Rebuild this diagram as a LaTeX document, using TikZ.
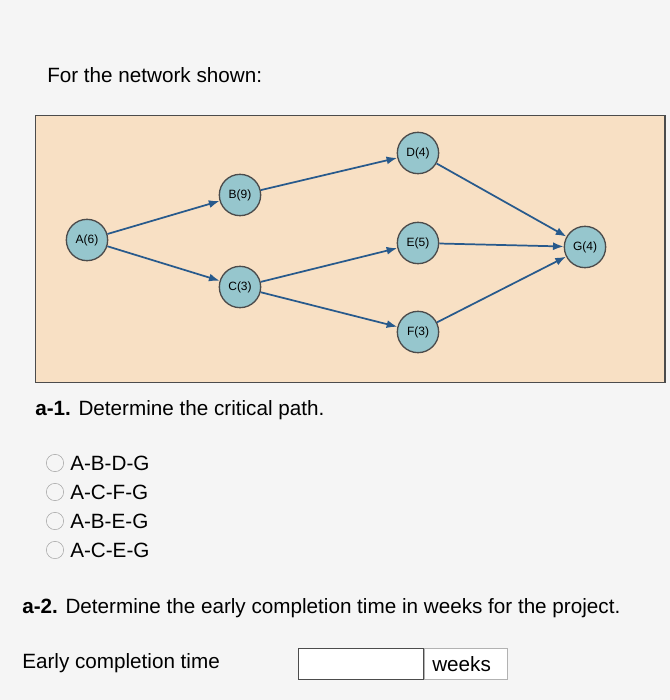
\documentclass[tikz,border=0pt]{standalone}
\usepackage{fontspec}
\setmainfont{Liberation Sans}
\usetikzlibrary{arrows.meta}
\definecolor{nodefill}{RGB}{150,198,205}
\definecolor{arrcol}{RGB}{40,90,140}
\definecolor{bgfill}{RGB}{248,224,196}
\begin{document}
\begin{tikzpicture}[x=0.75pt,y=-0.75pt,
  ev/.style={circle,draw=black!70,line width=1pt,fill=nodefill,minimum size=31pt,inner sep=0pt,font=\fontsize{9}{10}\selectfont},
  arr/.style={-{Latex[length=8pt,width=6pt]},draw=arrcol,line width=1.3pt},
  txt/.style={anchor=west,inner sep=0pt,font=\fontsize{15.5}{18}\selectfont},
  opt/.style={circle,draw=gray!70,minimum size=13pt,inner sep=0pt}]
\useasboundingbox (0,0) rectangle (670,700);
\fill[white!92!gray] (0,0) rectangle (670,700);
\node[txt] (t1) at (47,75) {For the network shown:};
\node[draw=black!70,line width=1pt,fill=bgfill,minimum width=472pt,minimum height=200pt,anchor=north west,inner sep=0pt] (bg) at (35,115) {};
\node[ev] (A) at (87,240) {A(6)};
\node[ev] (B) at (240,195) {B(9)};
\node[ev] (C) at (240,287) {C(3)};
\node[ev] (D) at (418,153) {D(4)};
\node[ev] (E) at (418,243) {E(5)};
\node[ev] (F) at (418,332) {F(3)};
\node[ev] (G) at (585,247) {G(4)};
\draw[arr] (A) -- (B);
\draw[arr] (A) -- (C);
\draw[arr] (B) -- (D);
\draw[arr] (C) -- (E);
\draw[arr] (C) -- (F);
\draw[arr] (D) -- (G);
\draw[arr] (E) -- (G);
\draw[arr] (F) -- (G);
\node[txt] (q1) at (35,410) {\textbf{a-1.} Determine the critical path.};
\node[opt] (o1) at (55,463) {}; \node[txt] (l1) at (70,463) {A-B-D-G};
\node[opt] (o2) at (55,492) {}; \node[txt] (l2) at (70,492) {A-C-F-G};
\node[opt] (o3) at (55,521) {}; \node[txt] (l3) at (70,521) {A-B-E-G};
\node[opt] (o4) at (55,550) {}; \node[txt] (l4) at (70,550) {A-C-E-G};
\node[txt] (q2) at (22,608) {\textbf{a-2.} Determine the early completion time in weeks for the project.};
\node[txt] (ect) at (22,663) {Early completion time};
\node[draw=gray!60,fill=white,minimum width=62pt,minimum height=23pt,inner sep=0pt,anchor=west] (wk) at (424,664) {};
\node[draw=black!70,fill=white,line width=0.8pt,minimum width=94pt,minimum height=23pt,inner sep=0pt] (box) at (361,664) {};
\node[txt] (w) at (432,664) {weeks};
\end{tikzpicture}
\end{document}
